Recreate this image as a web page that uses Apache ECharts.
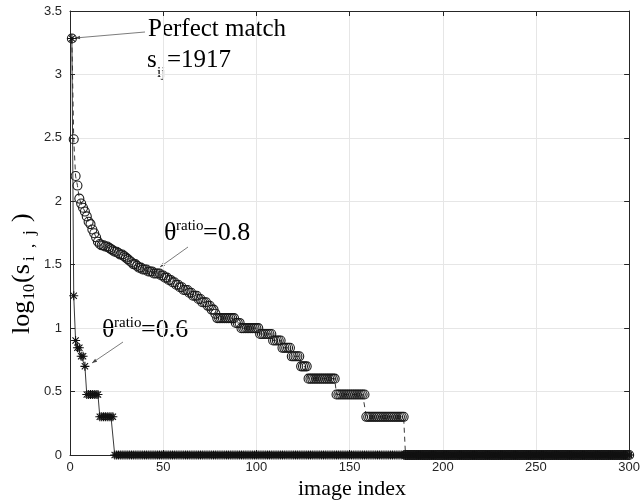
<!DOCTYPE html>
<html>
<head>
<meta charset="utf-8">
<script src="https://cdn.jsdelivr.net/npm/echarts@6/dist/echarts.min.js"></script>
<style>
  html, body { margin: 0; padding: 0; background: #fff; }
  #main { width: 643px; height: 502px; }
</style>
</head>
<body>
<div id="main"></div>
<script>
  // theta^ratio = 0.8 (circles, dashed line): log10(s_ij) level and how many images sit on it
  var ratio08Levels = [3.283, 2.489, 2.199, 2.124, 2.021, 1.982, 1.949, 1.919, 1.881, 1.839, 1.820, 1.778,
    1.748, 1.716, 1.681, 1.663, 1.653, 1.643, 1.633, 1.623, 1.613, 1.602, 1.591, 1.580, 1.568, 1.556,
    1.544, 1.531, 1.519, 1.505, 1.491, 1.477, 1.462, 1.447, 1.431, 1.415, 1.398, 1.380, 1.362, 1.342,
    1.322, 1.301, 1.279, 1.255, 1.230, 1.204, 1.176, 1.146, 1.114, 1.079, 1.041, 1.000, 0.954, 0.903,
    0.845, 0.778, 0.699, 0.602, 0.477, 0.301, 0];
  var ratio08Counts = [1, 1, 1, 1, 1, 1, 1, 1, 1, 1, 1, 1,
    1, 1, 1, 1, 2, 2, 1, 1, 1, 2, 1, 2, 1, 1,
    1, 1, 1, 2, 1, 2, 3, 3, 4, 2, 2, 2, 2, 2,
    2, 3, 2, 3, 2, 3, 2, 2, 1, 10, 3, 10, 7, 5,
    5, 5, 4, 15, 16, 21, 121];

  // theta^ratio = 0.6 (asterisks, solid line)
  var ratio06Levels = [3.283, 1.255, 0.903, 0.845, 0.778, 0.699, 0.477, 0.301, 0];
  var ratio06Counts = [1, 1, 1, 2, 2, 1, 7, 8, 277];

  var xMin = 0, xMax = 300, xStep = 50;
  var yMin = 0, yMax = 3.5, yStep = 0.5;

  // run-length -> [image index, value]
  function expand(levels, counts) {
    var out = [];
    var idx = 1;
    for (var i = 0; i < levels.length; i++) {
      for (var j = 0; j < counts[i]; j++) {
        out.push([idx, levels[i]]);
        idx++;
      }
    }
    return out;
  }

  var serif = '"Liberation Serif", "DejaVu Serif", serif';
  var sans = '"Liberation Sans", Arial, sans-serif';
  var ink = '#262626';

  var asterisk = 'path://M0,5L10,5M5,0L5,10M1.5,1.5L8.5,8.5M1.5,8.5L8.5,1.5';

  function txt(x, y, s, size) {
    return {
      type: 'text', x: x, y: y, silent: true,
      style: { text: s, fill: '#000', font: size + 'px ' + serif, align: 'left', verticalAlign: 'middle' }
    };
  }

  // thin pointer line with a small head at (x2, y2)
  function arrow(x1, y1, x2, y2) {
    var dx = x2 - x1, dy = y2 - y1;
    var len = Math.sqrt(dx * dx + dy * dy);
    var ux = dx / len, uy = dy / len;
    var bx = x2 - ux * 5, by = y2 - uy * 5;
    return [
      { type: 'line', silent: true, shape: { x1: x1, y1: y1, x2: x2, y2: y2 },
        style: { stroke: '#444', lineWidth: 0.7 } },
      { type: 'polygon', silent: true,
        shape: { points: [[x2, y2], [bx - uy * 1.8, by + ux * 1.8], [bx + uy * 1.8, by - ux * 1.8]] },
        style: { fill: '#444' } }
    ];
  }

  var chart = echarts.init(document.getElementById('main'));

  var option = {
    animation: false,
    backgroundColor: '#fff',
    grid: { left: 70, right: 10, top: 11, bottom: 47 },
    xAxis: [{
      type: 'value', min: xMin, max: xMax, interval: xStep, position: 'bottom',
      axisLine: { show: true, onZero: false, lineStyle: { color: ink, width: 1 } },
      axisTick: { show: true, inside: true, length: 5, lineStyle: { color: ink } },
      axisLabel: { margin: 6, color: ink, fontSize: 13, fontFamily: sans },
      splitLine: { show: true, lineStyle: { color: '#e6e6e6', width: 1 } }
    }, {
      type: 'value', min: xMin, max: xMax, interval: xStep, position: 'top',
      axisLine: { show: true, onZero: false, lineStyle: { color: ink, width: 1 } },
      axisTick: { show: true, inside: true, length: 5, lineStyle: { color: ink } },
      axisLabel: { show: false },
      splitLine: { show: false }
    }],
    yAxis: [{
      type: 'value', min: yMin, max: yMax, interval: yStep, position: 'left',
      axisLine: { show: true, onZero: false, lineStyle: { color: ink, width: 1 } },
      axisTick: { show: true, inside: true, length: 5, lineStyle: { color: ink } },
      axisLabel: { margin: 8, color: ink, fontSize: 13, fontFamily: sans },
      splitLine: { show: true, lineStyle: { color: '#e6e6e6', width: 1 } }
    }, {
      type: 'value', min: yMin, max: yMax, interval: yStep, position: 'right',
      axisLine: { show: true, onZero: false, lineStyle: { color: ink, width: 1 } },
      axisTick: { show: true, inside: true, length: 5, lineStyle: { color: ink } },
      axisLabel: { show: false },
      splitLine: { show: false }
    }],
    series: [{
      name: 'ratio 0.8',
      type: 'line',
      data: expand(ratio08Levels, ratio08Counts),
      symbol: 'circle',
      symbolSize: 9,
      showAllSymbol: true,
      clip: false,
      itemStyle: { color: 'transparent', borderColor: '#1a1a1a', borderWidth: 1.1 },
      lineStyle: { color: '#222', width: 0.9, type: [5, 4] },
      emphasis: { disabled: true }
    }, {
      name: 'ratio 0.6',
      type: 'line',
      data: expand(ratio06Levels, ratio06Counts),
      symbol: asterisk,
      symbolSize: 9,
      showAllSymbol: true,
      clip: false,
      itemStyle: { color: 'transparent', borderColor: '#111', borderWidth: 1.1 },
      lineStyle: { color: '#222', width: 0.9 },
      emphasis: { disabled: true }
    }],
    graphic: [
      // annotations
      txt(148, 29, 'Perfect match', 25),
      txt(147, 60, 's', 25),
      txt(157, 73, 'ij', 15),
      txt(167, 60, '=1917', 25),

      txt(164, 233, '\u03b8', 26),
      txt(176, 226, 'ratio', 15),
      txt(203, 233, '=0.8', 26),

      txt(102, 330, '\u03b8', 26),
      txt(114, 323, 'ratio', 15),
      txt(141, 330, '=0.6', 26),

      // x axis title
      {
        type: 'text', x: 352, y: 489, silent: true,
        style: { text: 'image index', fill: '#000', font: '22px ' + serif, align: 'center', verticalAlign: 'middle' }
      },
      // y axis title, rotated to read bottom-up
      {
        type: 'group', x: 22, y: 334, rotation: Math.PI / 2, silent: true,
        children: [
          { type: 'text', x: 0, y: 0, style: { text: 'log', fill: '#000', font: '26px ' + serif, align: 'left', verticalAlign: 'middle' } },
          { type: 'text', x: 34, y: 8, style: { text: '10', fill: '#000', font: '16px ' + serif, align: 'left', verticalAlign: 'middle' } },
          { type: 'text', x: 51, y: 0, style: { text: '(s', fill: '#000', font: '26px ' + serif, align: 'left', verticalAlign: 'middle' } },
          { type: 'text', x: 73, y: 8, style: { text: 'i', fill: '#000', font: '17px ' + serif, align: 'left', verticalAlign: 'middle' } },
          { type: 'text', x: 86, y: 8, style: { text: ',', fill: '#000', font: '17px ' + serif, align: 'left', verticalAlign: 'middle' } },
          { type: 'text', x: 99, y: 8, style: { text: 'j', fill: '#000', font: '17px ' + serif, align: 'left', verticalAlign: 'middle' } },
          { type: 'text', x: 112, y: 0, style: { text: ')', fill: '#000', font: '26px ' + serif, align: 'left', verticalAlign: 'middle' } }
        ]
      }
    ].concat(arrow(145, 32, 75, 38))
     .concat(arrow(188, 247, 160, 267))
     .concat(arrow(123, 342, 92, 363))
  };

  chart.setOption(option);
</script>
</body>
</html>
